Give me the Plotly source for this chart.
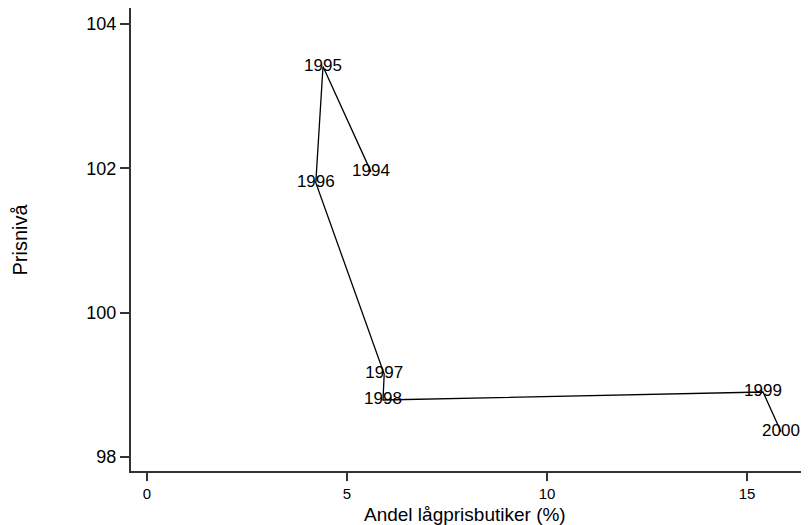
import plotly.graph_objects as go

years = ["1994", "1995", "1996", "1997", "1998", "1999", "2000"]
andel = [5.6, 4.4, 4.22, 5.93, 5.9, 15.4, 15.85]
prisniva = [101.95, 103.41, 101.8, 99.15, 98.79, 98.9, 98.35]

x_ticks = [0, 5, 10, 15]
y_ticks = [98, 100, 102, 104]

FONT = "Liberation Sans, Arial, sans-serif"

W, H = 809, 525
ML, MR, MT, MB = 131, 8, 8, 54
PW, PH = W - ML - MR, H - MT - MB

fig = go.Figure()
fig.add_trace(go.Scatter(
    x=andel, y=prisniva, mode="lines+text", text=years,
    textposition="middle center",
    textfont=dict(family=FONT, size=17, color="black"),
    line=dict(color="black", width=1.3),
    cliponaxis=False, showlegend=False, hoverinfo="skip",
))

axis_common = dict(
    showgrid=False, zeroline=False, showline=True, linecolor="#333333", linewidth=2,
    ticks="outside", tickwidth=1.5, tickcolor="#333333",
    automargin=False,
)

fig.update_layout(
    width=W, height=H,
    margin=dict(l=ML, r=MR, t=MT, b=MB),
    paper_bgcolor="white", plot_bgcolor="white",
    xaxis=dict(range=[-0.4, 16.35], tickvals=x_ticks, ticklen=8,
               tickfont=dict(family=FONT, size=15, color="black"), **axis_common),
    yaxis=dict(range=[97.806, 104.22], tickvals=y_ticks, ticklen=9,
               tickfont=dict(family=FONT, size=18, color="black"), **axis_common),
    annotations=[
        dict(text="Andel lågprisbutiker (%)", xref="paper", yref="paper",
             x=(465 - ML) / PW, y=-(514 - (H - MB)) / PH, xanchor="center", yanchor="middle",
             showarrow=False, font=dict(family=FONT, size=19, color="black")),
        dict(text="Prisnivå", xref="paper", yref="paper", textangle=-90,
             x=(19 - ML) / PW, y=0.5, xanchor="center", yanchor="middle",
             showarrow=False, font=dict(family=FONT, size=20, color="black")),
    ],
)

fig.write_html("out.html")
